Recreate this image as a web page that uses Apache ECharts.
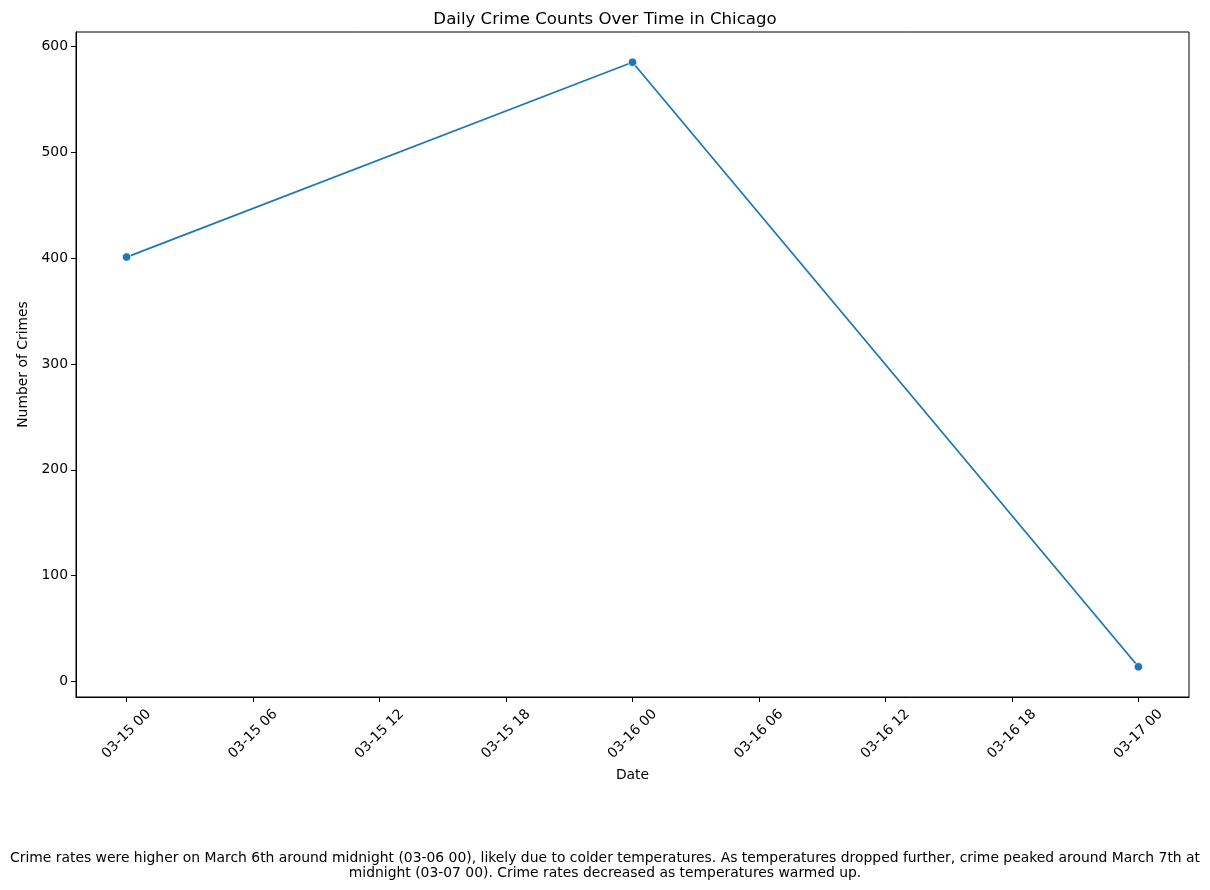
<!DOCTYPE html>
<html>
<head>
<meta charset="utf-8">
<script src="https://cdn.jsdelivr.net/npm/echarts@6/dist/echarts.min.js"></script>
<style>html,body{margin:0;padding:0;background:#fff;}#c{width:1210px;height:890px;}</style>
</head>
<body>
<div id="c"></div>
<script>
// Data (x in hours from 03-15 00)
const dateLabels = ['03-15 00', '03-16 00', '03-17 00'];
const dateHours = [0, 24, 48];
const crimeCounts = [401, 585, 14];
const xTickHours = [0, 6, 12, 18, 24, 30, 36, 42, 48];
const xTickLabels = ['03-15 00', '03-15 06', '03-15 12', '03-15 18', '03-16 00', '03-16 06', '03-16 12', '03-16 18', '03-17 00'];
const yTicks = [0, 100, 200, 300, 400, 500, 600];

const FONT = 'DejaVu Sans';
const chart = echarts.init(document.getElementById('c'), null, {renderer: 'canvas'});
const xMin = -2.4, xMax = 50.4;
const yRange = Math.max(...crimeCounts) - Math.min(...crimeCounts);
const yMin = Math.min(...crimeCounts) - 0.05 * yRange;
const yMax = Math.max(...crimeCounts) + 0.05 * yRange;

chart.setOption({
  animation: false,
  backgroundColor: '#fff',
  title: [
    {text: 'Daily Crime Counts Over Time in Chicago', left: 'center', top: 6,
     textStyle: {fontFamily: FONT, fontSize: 16.6, fontWeight: 'normal', color: '#000'}},
    {text: 'Crime rates were higher on March 6th around midnight (03-06 00), likely due to colder temperatures. As temperatures dropped further, crime peaked around March 7th at\nmidnight (03-07 00). Crime rates decreased as temperatures warmed up.',
     left: 'center', top: 846,
     textStyle: {fontFamily: FONT, fontSize: 13.9, fontWeight: 'normal', color: '#000', lineHeight: 15, align: 'center'}}
  ],
  grid: {left: 76, right: 21, top: 32, bottom: 193, show: true, borderColor: '#000', borderWidth: 1, containLabel: false},
  xAxis: {
    type: 'value', min: xMin, max: xMax,
    name: 'Date', nameLocation: 'middle', nameGap: 71,
    nameTextStyle: {fontFamily: FONT, fontSize: 13.9, color: '#000'},
    axisLine: {show: true, onZero: false, lineStyle: {color: '#000', width: 1}},
    axisTick: {show: true, inside: false, length: 5, lineStyle: {color: '#000'}, customValues: xTickHours},
    axisLabel: {
      customValues: xTickHours, rotate: 45, margin: 37, align: 'center', verticalAlign: 'middle',
      fontFamily: FONT, fontSize: 13.9, color: '#000',
      formatter: v => { const i = xTickHours.indexOf(v); return i >= 0 ? xTickLabels[i] : ''; }
    },
    splitLine: {show: false}
  },
  yAxis: {
    type: 'value', min: yMin, max: yMax,
    name: 'Number of Crimes', nameLocation: 'middle', nameGap: 41,
    nameTextStyle: {fontFamily: FONT, fontSize: 13.9, color: '#000'},
    axisLine: {show: true, onZero: false, lineStyle: {color: '#000', width: 1}},
    axisTick: {show: true, inside: false, length: 5, lineStyle: {color: '#000'}, customValues: yTicks},
    axisLabel: {customValues: yTicks, margin: 8, fontFamily: FONT, fontSize: 13.9, color: '#000'},
    splitLine: {show: false}
  },
  series: [{
    type: 'line',
    data: dateHours.map((h, i) => [h, crimeCounts[i]]),
    symbol: 'circle', symbolSize: 8.5,
    lineStyle: {color: '#1f77b4', width: 1.8},
    itemStyle: {color: '#1f77b4', borderColor: '#fff', borderWidth: 0.8}
  }]
});
</script>
</body>
</html>
